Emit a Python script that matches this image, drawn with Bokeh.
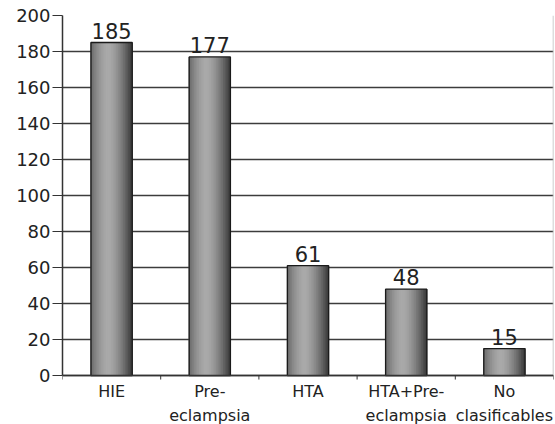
import math
from bokeh.plotting import figure
from bokeh.models import Range1d, FixedTicker, ColumnDataSource
from bokeh.embed import file_html
from bokeh.resources import INLINE
from bokeh.core.properties import value

categories = ["HIE", "Pre-\neclampsia", "HTA", "HTA+Pre-\neclampsia", "No\nclasificables"]
counts = [185, 177, 61, 48, 15]
y_ticks = list(range(0, 201, 20))

FONT = "DejaVu Sans"
n = len(categories)
centers = [i + 0.5 for i in range(n)]
bar_w = 0.42

# y range extends below 0 so category labels can sit inside the frame
p = figure(width=555, height=424, output_backend="svg", toolbar_location=None,
           x_range=Range1d(0, n), y_range=Range1d(-27.2, 200),
           min_border_left=62, min_border_right=2, min_border_top=15, min_border_bottom=0)
p.background_fill_color = "white"
p.border_fill_color = "white"
p.outline_line_color = None
p.xaxis.visible = False

# horizontal grid
p.xgrid.grid_line_color = None
p.ygrid.ticker = FixedTicker(ticks=y_ticks)
p.ygrid.grid_line_color = "#3c3c3c"
p.ygrid.grid_line_width = 1.6

# cylinder-like shading with thin slices
N = 24
xs, tops, cols = [], [], []
for c, v in zip(centers, counts):
    for k in range(N):
        t = (k + 0.5) / N
        off = (t - 0.5) * bar_w
        d = abs(t - 0.42) / 0.58
        g = int(58 + 112 * max(0.0, 1 - d ** 1.6))
        xs.append(c + off)
        tops.append(v)
        cols.append("#%02x%02x%02x" % (g, g, g))
src = ColumnDataSource(dict(x=xs, top=tops, color=cols))
p.vbar(x="x", top="top", bottom=0, width=bar_w / N * 1.6, fill_color="color",
       line_color=None, source=src)
bsrc = ColumnDataSource(dict(x=centers, top=counts, lab=[str(v) for v in counts],
                             cat=categories, zero=[0] * n))
p.vbar(x="x", top="top", bottom=0, width=bar_w, fill_color=None,
       line_color="#1a1a1a", line_width=1.3, source=bsrc)

# value labels
p.text(x="x", y="top", text="lab", source=bsrc, text_align="center",
       text_baseline="bottom", y_offset=-4, text_font=value(FONT),
       text_font_size="21px", text_color="#222222")

# right edge line
p.line(x=[n, n], y=[0, 200], line_color="#bbbbbb", line_width=1.5)

# x axis line + boundary ticks + category labels
p.line(x=[0, n], y=[0, 0], line_color="#333333", line_width=1.5)
p.ray(x=list(range(n + 1)), y=[0] * (n + 1), length=4, length_units="screen",
      angle=-math.pi / 2, line_color="#333333", line_width=1)
p.text(x="x", y="zero", text="cat", source=bsrc, text_align="center",
       text_baseline="top", y_offset=6, text_font=value(FONT),
       text_font_size="16px", text_color="#222222", text_line_height=1.3)

# y axis
ya = p.yaxis[0]
ya.ticker = FixedTicker(ticks=y_ticks)
ya.bounds = (0, 200)
ya.major_tick_out = 10
ya.major_tick_in = 0
ya.minor_tick_out = 0
ya.axis_line_color = "#333333"
ya.axis_line_width = 1.5
ya.major_tick_line_color = "#333333"
ya.major_label_text_font = FONT
ya.major_label_text_font_size = "18px"
ya.major_label_text_color = "#222222"
ya.major_label_standoff = 2

open("out.html", "w").write(file_html(p, INLINE))
